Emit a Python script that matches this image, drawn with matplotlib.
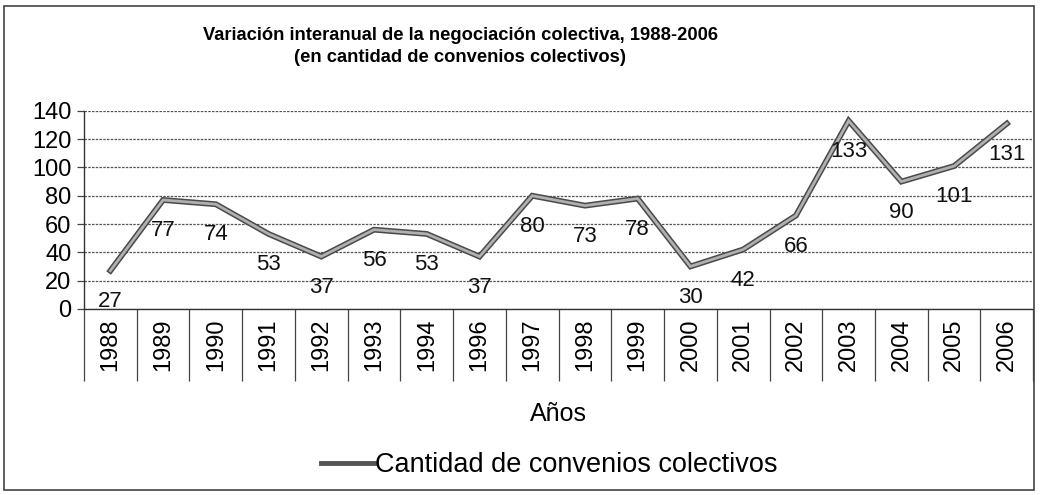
import matplotlib
matplotlib.use("Agg")
import matplotlib.pyplot as plt
from matplotlib.patches import Rectangle
from matplotlib.lines import Line2D

years = ["1988", "1989", "1990", "1991", "1992", "1993", "1994", "1996", "1997",
         "1998", "1999", "2000", "2001", "2002", "2003", "2004", "2005", "2006"]
convenios = [27, 77, 74, 53, 37, 56, 53, 37, 80, 73, 78, 30, 42, 66, 133, 90, 101, 131]
y_ticks = [0, 20, 40, 60, 80, 100, 120, 140]

plt.rcParams["font.family"] = ["Liberation Sans", "DejaVu Sans"]

fig = plt.figure(figsize=(10.63, 4.95), dpi=100)
ax = fig.add_axes([0.079, 0.376, 0.893, 0.40])

x = list(range(len(years)))
ax.plot(x, convenios, color="#4a4a4a", linewidth=4.2, solid_joinstyle="miter", zorder=3)
ax.plot(x, convenios, color="#b0b0b0", linewidth=2.0, solid_joinstyle="miter", zorder=4)

for xi, v in zip(x, convenios):
    ax.annotate(str(v), (xi, v), xytext=(0, -22), textcoords="offset points",
                ha="center", va="center", fontsize=16, color="#111111", zorder=5)

ax.set_xlim(-0.5, len(years) - 0.5)
ax.set_ylim(0, 140)
ax.set_yticks(y_ticks)
ax.set_yticklabels([str(t) for t in y_ticks], fontsize=17)
ax.set_xticks(x)
ax.set_xticklabels(years, rotation=90, fontsize=17)
ax.set_xticks([i - 0.5 for i in range(len(years) + 1)], minor=True)
ax.tick_params(axis="x", which="major", length=0, pad=7)
ax.tick_params(axis="x", which="minor", length=52, width=0.9, color="#444444", direction="out")
ax.tick_params(axis="y", length=5, width=0.9, color="#444444", pad=4)

ax.yaxis.grid(True, linestyle=(0, (2, 1)), color="#555555", linewidth=0.9)
ax.set_axisbelow(True)
for s in ["top", "right"]:
    ax.spines[s].set_visible(False)
for s in ["left", "bottom"]:
    ax.spines[s].set_color("#333333")
    ax.spines[s].set_linewidth(1.0)

ax.set_xlabel("Años", fontsize=18, labelpad=12)

fig.suptitle("Variación interanual de la negociación colectiva, 1988-2006\n"
             "(en cantidad de convenios colectivos)",
             x=0.433, y=0.945, fontsize=13.2, fontweight="bold",
             family=["Liberation Sans Narrow", "Liberation Sans", "DejaVu Sans"],
             linespacing=1.4)

handle = Line2D([], [], color="#555555", linewidth=3.5)
fig.legend([handle], ["Cantidad de convenios colectivos"], loc="center",
           bbox_to_anchor=(0.517, 0.06), frameon=False, fontsize=19.5,
           handlelength=1.95, handletextpad=0.05)

fig.patches.append(Rectangle((0.004, 0.01), 0.969, 0.978, transform=fig.transFigure,
                             fill=False, edgecolor="#444444", linewidth=1.2))

fig.savefig("out.png", dpi=100)
